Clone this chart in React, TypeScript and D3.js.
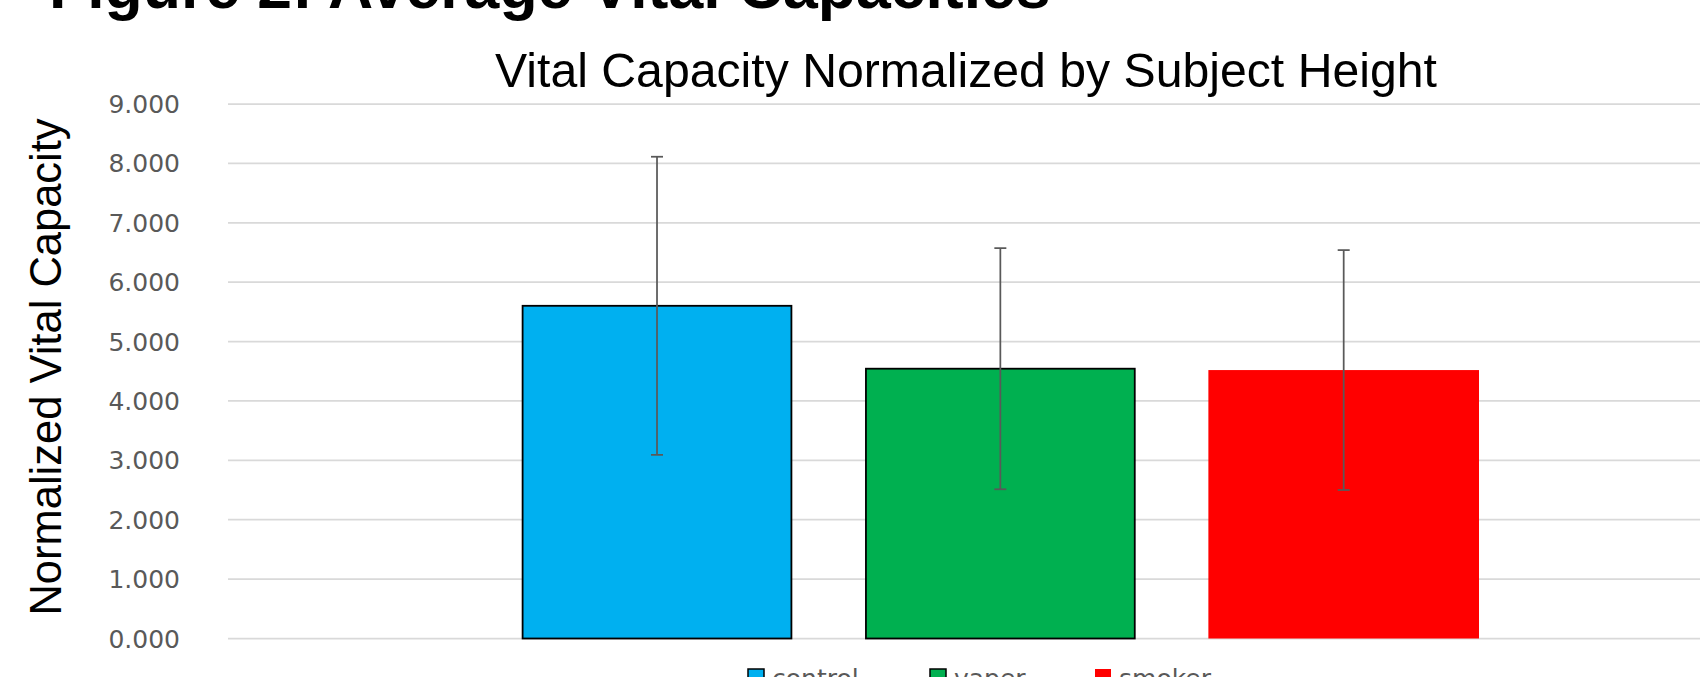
import React from "react";
import * as d3 from "d3";

const categories = ["control", "vaper", "smoker"];
const values = [5.602, 4.543, 4.52];
const errors = [2.51, 2.03, 2.02];
const colors = ["#00B0F0", "#00B050", "#FF0000"];
const outlined = [true, true, false];
const yTicks = [0, 1, 2, 3, 4, 5, 6, 7, 8, 9];

const W = 1700;
const H = 677;

export default function App() {
  const y = d3.scaleLinear().domain([0, 9]).range([638.5, 104]);
  const x = d3
    .scaleBand<string>()
    .domain(categories)
    .range([521.7, 1479])
    .paddingInner(0.2118)
    .paddingOuter(0);
  const plotLeft = 228;
  const plotRight = 1743;
  const fmt = d3.format(".3f");
  const legendX = [748, 930, 1095];

  return (
    <svg
      width={W}
      height={H}
      style={{ position: "absolute", left: 0, top: 0, background: "#fff" }}
      viewBox={`0 0 ${W} ${H}`}
    >
      <rect x={0} y={0} width={W} height={H} fill="#fff" />
      <text
        x={49}
        y={8}
        fontFamily="Liberation Sans, Arial, sans-serif"
        fontWeight="bold"
        fontSize={62.5}
        fill="#000"
      >
        Figure 2: Average Vital Capacities
      </text>
      <text
        x={966}
        y={87}
        textAnchor="middle"
        fontFamily="Liberation Sans, Arial, sans-serif"
        fontSize={48.2}
        fill="#000"
      >
        Vital Capacity Normalized by Subject Height
      </text>
      <text
        transform={`translate(61,367) rotate(-90)`}
        textAnchor="middle"
        fontFamily="Liberation Sans, Arial, sans-serif"
        fontSize={43.5}
        fill="#000"
      >
        Normalized Vital Capacity
      </text>
      {yTicks.map((t) => (
        <g key={t}>
          <line
            x1={plotLeft}
            x2={plotRight}
            y1={y(t)}
            y2={y(t)}
            stroke="#d9d9d9"
            strokeWidth={1.75}
          />
          <text
            x={180}
            y={y(t)}
            dy="0.36em"
            textAnchor="end"
            fontFamily="DejaVu Sans, sans-serif"
            fontSize={25}
            fill="#595959"
          >
            {fmt(t)}
          </text>
        </g>
      ))}
      {categories.map((c, i) => (
        <rect
          key={c}
          x={x(c)! + (outlined[i] ? 0.9 : 0)}
          y={y(values[i])}
          width={x.bandwidth() - (outlined[i] ? 1.8 : 0)}
          height={y(0) - y(values[i])}
          fill={colors[i]}
          stroke={outlined[i] ? "#000" : "none"}
          strokeWidth={1.8}
        />
      ))}
      {categories.map((c, i) => {
        const cx = x(c)! + x.bandwidth() / 2;
        const top = y(values[i] + errors[i]);
        const bot = y(values[i] - errors[i]);
        return (
          <g key={c + "e"} stroke="#595959" strokeWidth={1.75}>
            <line x1={cx} x2={cx} y1={top} y2={bot} />
            <line x1={cx - 6} x2={cx + 6} y1={top} y2={top} />
            <line x1={cx - 6} x2={cx + 6} y1={bot} y2={bot} />
          </g>
        );
      })}
      {categories.map((c, i) => (
        <g key={c + "l"}>
          <rect
            x={legendX[i]}
            y={669}
            width={16}
            height={16}
            fill={colors[i]}
            stroke={outlined[i] ? "#000" : "none"}
            strokeWidth={1.5}
          />
          <text
            x={legendX[i] + 24}
            y={687}
            fontFamily="DejaVu Sans, sans-serif"
            fontSize={25}
            fill="#595959"
          >
            {c}
          </text>
        </g>
      ))}
    </svg>
  );
}
